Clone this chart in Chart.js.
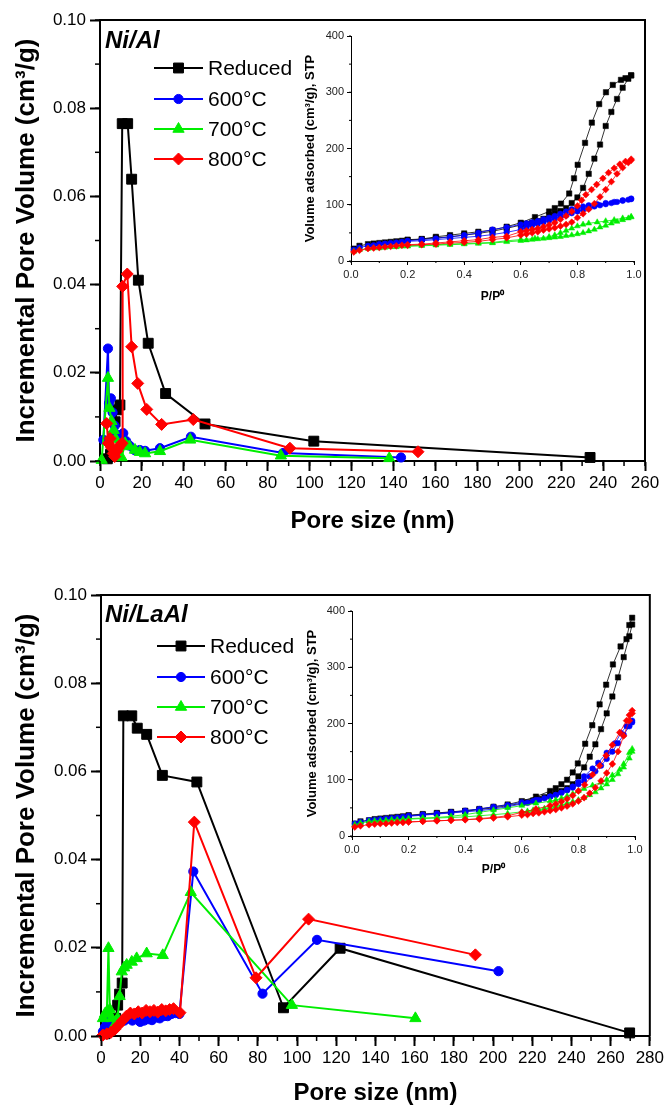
<!DOCTYPE html>
<html><head><meta charset="utf-8">
<script src="https://cdn.jsdelivr.net/npm/chart.js@4.4.0/dist/chart.umd.min.js"></script>
<style>
html,body{margin:0;padding:0;background:#fff}
body{width:666px;height:1110px;position:relative;overflow:hidden}
.c{position:absolute}
</style></head><body>
<div class="c" style="left:0;top:0;width:666px;height:555px"><canvas id="m1"></canvas></div>
<div class="c" style="left:300px;top:20px;width:345px;height:295px"><canvas id="i1"></canvas></div>
<div class="c" style="left:0;top:555px;width:666px;height:555px"><canvas id="m2"></canvas></div>
<div class="c" style="left:300px;top:595px;width:350px;height:295px"><canvas id="i2"></canvas></div>
<script>
// ---------- DATA: Ni/Al pore size distribution ----------
const seriesNames = ['Reduced', '600\u00B0C', '700\u00B0C', '800\u00B0C'];
const a_red_x = [3.5, 5.0, 6.4, 7.2, 8.0, 9.5, 10.6, 13.2, 15.1, 18.3, 23.0, 31.3, 50.1, 102.0, 233.8];
const a_red_y = [0.0005, 0.0015, 0.0055, 0.0089, 0.0116, 0.0127, 0.0765, 0.0765, 0.0639, 0.0410, 0.0267, 0.0153, 0.0084, 0.0045, 0.0008];
const a_600_x = [1.6, 3.8, 4.3, 5.2, 6.0, 7.0, 8.0, 9.0, 10.0, 11.1, 12.5, 14.0, 16.4, 19.0, 21.5, 28.6, 43.4, 87.3, 143.6];
const a_600_y = [0.0048, 0.0255, 0.0131, 0.0142, 0.0110, 0.0080, 0.0060, 0.0050, 0.0055, 0.0063, 0.0045, 0.0035, 0.0025, 0.0025, 0.0023, 0.0029, 0.0055, 0.0018, 0.0008];
const a_700_x = [0.8, 3.8, 4.5, 5.5, 6.5, 7.5, 8.5, 10.3, 12.0, 14.0, 16.7, 19.0, 21.5, 28.6, 43.0, 86.3, 138.0];
const a_700_y = [0.0002, 0.0188, 0.0120, 0.0090, 0.0070, 0.0050, 0.0030, 0.0008, 0.0040, 0.0033, 0.0025, 0.0020, 0.0017, 0.0022, 0.0048, 0.0012, 0.0006];
const a_800_x = [3.2, 4.0, 4.8, 5.5, 6.3, 7.0, 8.0, 8.7, 9.5, 10.5, 10.8, 13.0, 15.1, 18.0, 22.3, 29.4, 44.5, 90.6, 151.7];
const a_800_y = [0.0085, 0.0040, 0.0051, 0.0030, 0.0017, 0.0010, 0.0022, 0.0029, 0.0035, 0.0040, 0.0396, 0.0424, 0.0259, 0.0176, 0.0117, 0.0083, 0.0094, 0.0029, 0.0021];

// ---------- DATA: Ni/LaAl pore size distribution ----------
const b_red_x = [2, 4, 6, 7.5, 8.5, 9.5, 10.8, 11.4, 15.7, 18.5, 23.3, 31.3, 48.9, 93.1, 122, 269.7];
const b_red_y = [0.0005, 0.0010, 0.0020, 0.0040, 0.0070, 0.0095, 0.0120, 0.0726, 0.0726, 0.0698, 0.0684, 0.0591, 0.0576, 0.0064, 0.0199, 0.0007];
const b_600_x = [1, 2, 3, 4, 5, 6, 7, 8, 9, 10, 12, 14, 16, 18, 20, 22, 24, 26, 28, 30, 32, 34, 36, 38, 40, 47.1, 82.4, 110.2, 202.8];
const b_600_y = [0.0010, 0.0020, 0.0030, 0.0035, 0.0030, 0.0020, 0.0025, 0.0030, 0.0035, 0.0032, 0.0035, 0.0040, 0.0035, 0.0038, 0.0032, 0.0035, 0.0038, 0.0036, 0.0042, 0.0040, 0.0045, 0.0045, 0.0050, 0.0052, 0.0050, 0.0373, 0.0096, 0.0218, 0.0147];
const b_700_x = [1, 2, 3, 3.8, 4.5, 5.5, 7, 8.5, 9.5, 10.6, 11.8, 13.1, 15.7, 18.2, 23.3, 31.5, 45.8, 97.4, 160.4];
const b_700_y = [0.0040, 0.0050, 0.0055, 0.0199, 0.0060, 0.0040, 0.0025, 0.0040, 0.0090, 0.0146, 0.0155, 0.0161, 0.0168, 0.0176, 0.0187, 0.0183, 0.0326, 0.0070, 0.0040];
const b_800_x = [1, 3, 5, 7, 9, 11, 13, 15, 17, 19, 21, 23, 25, 27, 29, 31, 33, 35, 37, 40.3, 47.6, 79.1, 105.9, 191];
const b_800_y = [0.0002, 0.0005, 0.0008, 0.0015, 0.0025, 0.0035, 0.0045, 0.0052, 0.0050, 0.0055, 0.0052, 0.0058, 0.0055, 0.0058, 0.0054, 0.0060, 0.0057, 0.0060, 0.0062, 0.0053, 0.0485, 0.0132, 0.0265, 0.0184];

// ---------- DATA: isotherms (inset) ----------
const P_ads = [0.01,0.03,0.06,0.08,0.1,0.12,0.14,0.16,0.18,0.2,0.25,0.3,0.35,0.4,0.45,0.5,0.55,0.6,0.62,0.64,0.66,0.68,0.7,0.72,0.74,0.76,0.78,0.8,0.82,0.84,0.86,0.88,0.9,0.92,0.94,0.96,0.98,0.99];
// Ni/Al
const ia_red_ads = [22,27,30,31,32,33,34,35,36,37,39,41,43,46,49,53,58,64,66,68,71,75,82,85,89,94,103,113,130,155,182,207,240,265,288,308,324,330];
const ia_red_desP = [0.99,0.97,0.954,0.925,0.901,0.877,0.851,0.827,0.801,0.788,0.771,0.742,0.72,0.7,0.65,0.6,0.55,0.5,0.45,0.4,0.35,0.3,0.25,0.2];
const ia_red_des = [330,325,322,313,300,279,246,210,171,147,120,102,94,88,78,68,61,55,52,49,46,43,39,38];
const ia_600_ads = [20,24,27,28,30,31,32,33,34,35,36,38,40,42,44,47,51,56,60,63,66,69,72,75,78,81,85,88,91,94,97,99,101,103,105,107,109,110];
const ia_600_desP = [0.99,0.96,0.93,0.9,0.87,0.84,0.82,0.8,0.78,0.76,0.74,0.72,0.7,0.68,0.66,0.64,0.62,0.6,0.55,0.5,0.45,0.4,0.35,0.3,0.25,0.2];
const ia_600_des = [111,108,105,103,101,99,97,95,92,88,84,80,77,74,71,69,67,65,60,56,50,46,43,40,38,36];
const ia_700_ads = [17,20,22,23,23,24,25,25,26,26,27,28,29,30,31,32,34,36,37,38,39,40,41,42,43,45,46,48,50,53,56,60,63,67,70,73,76,78];
const ia_700_desP = [0.99,0.96,0.93,0.9,0.87,0.84,0.82,0.8,0.78,0.76,0.74,0.72,0.7,0.65,0.6,0.55,0.5,0.45,0.4,0.35,0.3,0.25,0.2];
const ia_700_des = [79,76,73,71,69,67,65,62,58,54,50,46,43,40,38,36,33,32,31,30,29,28,27];
const ia_800_ads = [16,19,22,23,24,25,26,27,28,28,29,30,32,33,35,38,41,46,48,50,52,55,57,59,62,65,69,77,84,92,102,114,127,141,155,166,175,179];
const ia_800_desP = [0.99,0.97,0.95,0.93,0.91,0.89,0.868,0.85,0.83,0.815,0.8,0.78,0.76,0.74,0.72,0.7,0.68,0.66,0.64,0.62,0.6,0.55,0.5,0.45,0.4,0.35,0.3,0.25,0.2];
const ia_800_des = [181,177,172,165,157,147,136,127,118,108,98,88,80,74,68,64,61,58,56,54,52,44,42,38,36,34,32,30,29];
// Ni/LaAl
const ib_red_ads = [22,26,28,30,31,32,33,34,35,36,38,40,42,44,47,50,54,58,60,63,66,69,72,76,80,85,92,106,122,141,163,190,218,248,282,318,355,376];
const ib_red_desP = [0.99,0.98,0.97,0.949,0.922,0.898,0.875,0.849,0.824,0.798,0.78,0.76,0.74,0.72,0.7,0.65,0.6,0.55,0.5,0.45,0.4,0.35,0.3,0.25,0.2];
const ib_red_des = [388,375,350,337,305,269,234,197,164,129,113,100,92,85,80,70,62,56,52,48,45,43,41,39,37];
const ib_600_ads = [22,25,28,29,30,31,32,33,34,35,37,39,41,43,45,48,52,57,59,62,64,67,70,73,77,81,86,92,98,106,115,125,137,150,165,180,195,202];
const ib_600_desP = [0.99,0.97,0.95,0.93,0.9,0.87,0.85,0.82,0.8,0.78,0.76,0.74,0.72,0.7,0.65,0.6,0.55,0.5,0.45,0.4,0.35,0.3,0.25,0.2];
const ib_600_des = [205,195,183,165,148,130,120,106,96,88,82,77,73,70,64,60,55,52,48,45,42,40,38,36];
const ib_700_ads = [20,23,26,27,27,28,29,29,30,30,31,32,33,34,36,38,40,43,44,46,47,49,51,53,55,58,61,64,68,73,78,85,92,100,110,122,138,150];
const ib_700_desP = [0.99,0.98,0.96,0.946,0.92,0.9,0.88,0.85,0.82,0.8,0.78,0.76,0.74,0.72,0.7,0.65,0.6,0.55,0.5,0.45,0.4,0.35,0.3,0.25,0.2];
const ib_700_des = [155,148,128,118,108,100,95,90,84,80,75,71,67,64,62,58,54,50,46,42,38,35,33,32,31];
const ib_800_ads = [16,18,20,21,22,22,23,24,24,25,26,27,28,29,30,32,34,37,38,40,41,43,45,47,50,53,57,62,68,76,86,98,112,128,150,178,205,218];
const ib_800_desP = [0.99,0.98,0.97,0.946,0.92,0.898,0.875,0.85,0.822,0.8,0.78,0.76,0.74,0.72,0.7,0.65,0.6,0.55,0.5,0.45,0.4,0.35,0.3,0.25,0.2];
const ib_800_des = [223,215,205,184,162,143,125,109,91,80,72,66,61,57,54,48,42,36,33,31,29,28,27,26,25];

// tick settings
const mainYTicks = {min: 0, max: 0.10, step: 0.02, minor: 0.01};
const insetXTicks = {min: 0, max: 1.0, step: 0.2, minor: 0.1};
const insetYTicks = {min: 0, max: 400, step: 100, minor: 50};

// ---------- styles ----------
const COLORS = ['#000000', '#0000ff', '#00ee00', '#ff0000'];
const STYLES = ['rect', 'circle', 'triangle', 'rectRot'];
const MAIN_R = [7, 4.6, 6.5, 6];
const INS_R = [3.8, 2.8, 3.4, 3.4];
const ORDERS = [4, 3, 2, 1];
const FAM = "'Liberation Sans', Arial, sans-serif";

const pts = (xs, ys) => xs.map((x, i) => ({x: x, y: ys[i]}));

function mainDatasets(list) {
  return list.map((d, i) => ({
    label: seriesNames[i], data: d, showLine: true,
    borderColor: COLORS[i], backgroundColor: COLORS[i], borderWidth: 2,
    pointStyle: STYLES[i], pointRadius: MAIN_R[i], pointBorderWidth: 1,
    pointBackgroundColor: COLORS[i], pointBorderColor: COLORS[i],
    order: ORDERS[i], clip: false, tension: 0
  }));
}
function insetDatasets(list) {
  const out = [];
  list.forEach((pair, i) => {
    pair.forEach(d => out.push({
      label: seriesNames[i], data: d, showLine: true,
      borderColor: COLORS[i], backgroundColor: COLORS[i], borderWidth: 0.8,
      pointStyle: STYLES[i], pointRadius: INS_R[i], pointBorderWidth: 0.5,
      pointBackgroundColor: COLORS[i], pointBorderColor: COLORS[i],
      order: ORDERS[i], clip: false
    }));
  });
  return out;
}

// plugins
const minorTicks = {
  id: 'minorTicks',
  afterDraw(chart, args, o) {
    if (!o || !o.xStep) return;
    const ctx = chart.ctx, x = chart.scales.x, y = chart.scales.y;
    ctx.save();
    ctx.strokeStyle = '#000';
    ctx.lineWidth = o.width;
    const nx = Math.round((x.max - x.min) / o.xStep);
    for (let k = 0; k <= nx; k++) {
      const px = x.getPixelForValue(x.min + k * o.xStep);
      ctx.beginPath(); ctx.moveTo(px, x.top); ctx.lineTo(px, x.top + o.len); ctx.stroke();
    }
    const ny = Math.round((y.max - y.min) / o.yStep);
    for (let k = 0; k <= ny; k++) {
      const py = y.getPixelForValue(y.min + k * o.yStep);
      ctx.beginPath(); ctx.moveTo(y.right, py); ctx.lineTo(y.right - o.len, py); ctx.stroke();
    }
    ctx.restore();
  }
};
const frame = {
  id: 'frame',
  afterDraw(chart, args, o) {
    if (!o || !o.on) return;
    const a = chart.chartArea, ctx = chart.ctx;
    ctx.save();
    ctx.strokeStyle = '#000'; ctx.lineWidth = 2;
    ctx.beginPath();
    ctx.moveTo(a.left, a.top); ctx.lineTo(a.right, a.top); ctx.lineTo(a.right, a.bottom);
    ctx.stroke();
    ctx.restore();
  }
};
const legendBox = {
  id: 'legendBox',
  afterDraw(chart, args, o) {
    if (!o || !o.rows) return;
    const ctx = chart.ctx;
    ctx.save();
    chart.data.datasets.forEach((ds, i) => {
      const y = o.rows[i];
      ctx.strokeStyle = ds.borderColor; ctx.lineWidth = 2;
      ctx.beginPath(); ctx.moveTo(o.x0, y); ctx.lineTo(o.x1, y); ctx.stroke();
      ctx.fillStyle = ds.backgroundColor; ctx.strokeStyle = ds.borderColor; ctx.lineWidth = 1;
      Chart.helpers.drawPoint(ctx, {pointStyle: ds.pointStyle, radius: ds.pointRadius, rotation: 0, borderWidth: 1}, (o.x0 + o.x1) / 2, y);
      ctx.fillStyle = '#000';
      ctx.font = "21px " + FAM;
      ctx.textBaseline = 'middle'; ctx.textAlign = 'left';
      ctx.fillText(ds.label, o.tx, y + 1);
    });
    ctx.fillStyle = '#000';
    ctx.font = "italic bold 24px " + FAM;
    ctx.textBaseline = 'alphabetic';
    ctx.fillText(o.title, o.titleX, o.titleY);
    ctx.restore();
  }
};
Chart.register(minorTicks, frame, legendBox);

function mainChart(id, datasets, xmax, L, T, R, B, H, xTitlePad, legend) {
  return new Chart(document.getElementById(id), {
    type: 'scatter',
    data: {datasets: datasets},
    options: {
      responsive: true, maintainAspectRatio: false, animation: false,
      layout: {padding: {left: 0, top: T, right: 666 - R, bottom: 0}},
      plugins: {legend: {display: false}, tooltip: {enabled: false},
        minorTicks: {xStep: 10, yStep: mainYTicks.minor, len: 5, width: 1.5},
        frame: {on: true}, legendBox: legend},
      scales: {
        x: {type: 'linear', min: 0, max: xmax,
          afterFit: s => { s.height = H - B; },
          ticks: {stepSize: 20, color: '#000', padding: 2, maxRotation: 0, autoSkip: false, font: {family: FAM, size: 17}},
          grid: {drawOnChartArea: false, drawTicks: true, tickLength: 10, tickWidth: 2, tickColor: '#000'},
          border: {display: true, color: '#000', width: 2},
          title: {display: true, text: 'Pore size (nm)', color: '#000', font: {family: FAM, size: 24, weight: 'bold'}, padding: {top: 0, bottom: xTitlePad}}},
        y: {type: 'linear', min: mainYTicks.min, max: mainYTicks.max,
          afterFit: s => { s.width = L; },
          ticks: {stepSize: mainYTicks.step, color: '#000', padding: 4, font: {family: FAM, size: 17}, callback: v => v.toFixed(2)},
          grid: {drawOnChartArea: false, drawTicks: true, tickLength: 10, tickWidth: 2, tickColor: '#000'},
          border: {display: true, color: '#000', width: 2},
          title: {display: true, text: 'Incremental Pore Volume (cm\u00B3/g)', color: '#000', font: {family: FAM, size: 26, weight: 'bold'}, padding: {top: 11, bottom: 0}}}
      }
    }
  });
}

function insetChart(id, datasets, W, H, L, T, R, B, yTitleTop, xTitleBottom) {
  return new Chart(document.getElementById(id), {
    type: 'scatter',
    data: {datasets: datasets},
    options: {
      responsive: true, maintainAspectRatio: false, animation: false,
      layout: {padding: {left: 0, top: T, right: W - R, bottom: 0}},
      plugins: {legend: {display: false}, tooltip: {enabled: false},
        minorTicks: {xStep: insetXTicks.minor, yStep: insetYTicks.minor, len: 2, width: 1}},
      scales: {
        x: {type: 'linear', min: insetXTicks.min, max: insetXTicks.max,
          afterFit: s => { s.height = H - B; },
          ticks: {stepSize: insetXTicks.step, color: '#222', padding: 3, maxRotation: 0, autoSkip: false, font: {family: FAM, size: 11}, callback: v => v.toFixed(1)},
          grid: {drawOnChartArea: false, drawTicks: true, tickLength: 4, tickWidth: 1, tickColor: '#000'},
          border: {display: true, color: '#000', width: 1},
          title: {display: true, text: 'P/P\u2070', color: '#000', font: {family: FAM, size: 12, weight: 'bold'}, padding: {top: 0, bottom: xTitleBottom}}},
        y: {type: 'linear', min: insetYTicks.min, max: insetYTicks.max,
          afterFit: s => { s.width = L; },
          ticks: {stepSize: insetYTicks.step, color: '#222', padding: 3, font: {family: FAM, size: 11}},
          grid: {drawOnChartArea: false, drawTicks: true, tickLength: 4, tickWidth: 1, tickColor: '#000'},
          border: {display: true, color: '#000', width: 1},
          title: {display: true, text: 'Volume adsorbed (cm\u00B3/g), STP', color: '#000', font: {family: FAM, size: 13, weight: 'bold'}, padding: {top: yTitleTop, bottom: 0}}}
      }
    }
  });
}

mainChart('m1', mainDatasets([pts(a_red_x, a_red_y), pts(a_600_x, a_600_y), pts(a_700_x, a_700_y), pts(a_800_x, a_800_y)]),
  260, 100, 20, 645, 461, 555, 19,
  {rows: [68, 99, 129, 159], x0: 154, x1: 203, tx: 208, title: 'Ni/Al', titleX: 105, titleY: 48});
mainChart('m2', mainDatasets([pts(b_red_x, b_red_y), pts(b_600_x, b_600_y), pts(b_700_x, b_700_y), pts(b_800_x, b_800_y)]),
  280, 101, 40, 650, 481, 555, 2,
  {rows: [91, 122, 152, 182], x0: 157, x1: 205, tx: 210, title: 'Ni/LaAl', titleX: 105, titleY: 67});

insetChart('i1', insetDatasets([
  [pts(P_ads, ia_red_ads), pts(ia_red_desP, ia_red_des)],
  [pts(P_ads, ia_600_ads), pts(ia_600_desP, ia_600_des)],
  [pts(P_ads, ia_700_ads), pts(ia_700_desP, ia_700_des)],
  [pts(P_ads, ia_800_ads), pts(ia_800_desP, ia_800_des)]
]), 345, 295, 51, 16, 334, 241, 3, 11);
insetChart('i2', insetDatasets([
  [pts(P_ads, ib_red_ads), pts(ib_red_desP, ib_red_des)],
  [pts(P_ads, ib_600_ads), pts(ib_600_desP, ib_600_des)],
  [pts(P_ads, ib_700_ads), pts(ib_700_desP, ib_700_des)],
  [pts(P_ads, ib_800_ads), pts(ib_800_desP, ib_800_des)]
]), 350, 295, 52, 16, 335, 241, 5, 13);
</script>
</body></html>
